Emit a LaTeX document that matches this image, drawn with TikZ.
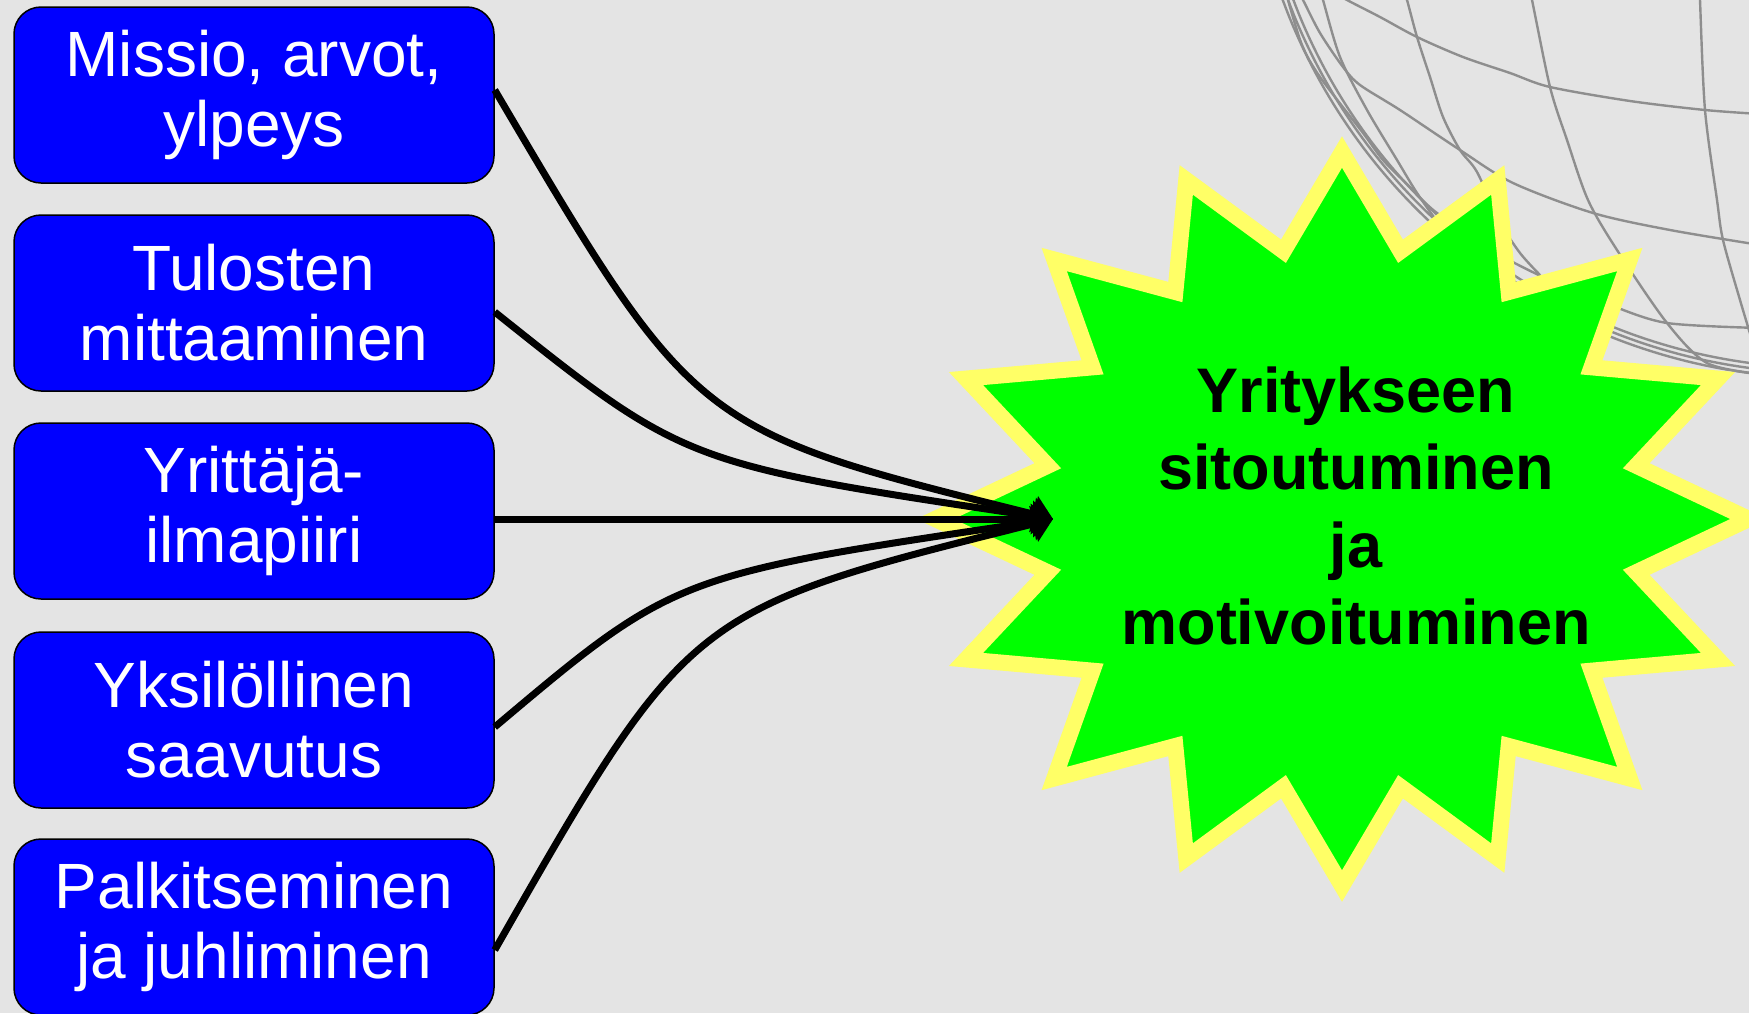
\documentclass[tikz,border=0pt]{standalone}
\usepackage{fontspec}
\setmainfont{Liberation Sans}
\usetikzlibrary{arrows.meta,calc}
\definecolor{bg}{HTML}{E4E4E4}
\definecolor{boxblue}{HTML}{0000FF}
\definecolor{stargreen}{HTML}{00FF00}
\definecolor{staredge}{HTML}{FFFF66}
\definecolor{globeline}{HTML}{8E8E8E}
\begin{document}
\begin{tikzpicture}[x=1pt,y=-1pt,
  factor/.style={draw=black, line width=1.5pt, fill=boxblue, rounded corners=27pt,
    minimum width=480pt, minimum height=176pt, inner sep=0pt,
    text=white, align=center, font=\fontsize{64pt}{70pt}\selectfont},
  link/.style={draw=black, line width=7pt, -{Triangle[length=20pt,width=36pt]}},
  globe/.style={draw=globeline, line width=2.4pt},
  burst/.style={draw=staredge, fill=stargreen, line width=16pt, line join=miter},
  goaltext/.style={text=black, align=center, inner sep=0pt,
    font=\fontsize{63pt}{77.5pt}\selectfont\bfseries}]
\useasboundingbox (0,0) rectangle (1749,1013);
\begin{scope}
\clip (0,0) rectangle (1749,1013);
\fill[bg] (0,0) rectangle (1749,1013);

% wire globe in the upper right corner
\foreach \r in {578,573,568}
  \draw[globe] plot[domain=95:165,samples=80] ({1825+\r*cos(\x)},{-200+\r*sin(\x)});
\draw[globe] plot[smooth] coordinates {(1330,-10) (1347,0) (1380,17) (1417,37) (1463,57)
  (1510,73) (1550,87) (1630,101) (1705,110) (1760,114)};
\draw[globe] plot[smooth] coordinates {(1297,-10) (1303,0) (1320,33) (1343,67) (1360,85)
  (1400,110) (1460,150) (1513,183) (1593,213) (1670,230) (1760,245)};
\draw[globe] plot[smooth] coordinates {(1288,0) (1302,45) (1320,77) (1363,133) (1383,160)
  (1410,187) (1437,213) (1500,255) (1560,285) (1610,305) (1667,323) (1760,328)};
\draw[globe] plot[smooth] coordinates {(1320,-10) (1323,0) (1340,57) (1367,110) (1397,160)
  (1417,193) (1440,225) (1470,260)};
\draw[globe] plot[smooth] coordinates {(1403,-10) (1407,0) (1417,37) (1430,77) (1443,117)
  (1460,150) (1477,172) (1500,222) (1520,253) (1540,275)};
\draw[globe] plot[smooth] coordinates {(1529,-10) (1532,0) (1550,87) (1567,140) (1588,200)
  (1617,250) (1667,323) (1707,363) (1760,374)};
\draw[globe] plot[smooth] coordinates {(1700,-10) (1700,0) (1705,110) (1717,200) (1723,240)
  (1740,300) (1755,350)};

% sixteen-point burst
\draw[burst] (1749,519)
  \foreach \k in {0,...,15} {
    -- ({1342+300*cos(22.5*\k+11.25)},{519-273*sin(22.5*\k+11.25)})
    -- ({1342+407*cos(22.5*\k+22.5)},{519-367*sin(22.5*\k+22.5)})
  } -- cycle;

% factor boxes
\node[factor] (b1) at (254,95)  {Missio, arvot,\\ylpeys};
\node[factor] (b2) at (254,303) {Tulosten\\mittaaminen};
\node[factor] (b3) at (254,511) {Yrittäjä-\\ilmapiiri};
\node[factor] (b4) at (254,720) {Yksilöllinen\\saavutus};
\node[factor] (b5) at (254,927) {Palkitseminen\\ja juhliminen};

% connectors meeting at the burst
\coordinate (tip) at (1053,519);
\draw[link] ([yshift=5pt]b1.east)  .. controls (695,430) .. (tip);
\draw[link] ([yshift=-9pt]b2.east) .. controls (685,464) .. (tip);
\draw[link] ([yshift=-8pt]b3.east) -- (tip);
\draw[link] ([yshift=-7pt]b4.east) .. controls (675,575) .. (tip);
\draw[link] ([yshift=-23pt]b5.east) .. controls (689,610) .. (tip);

\node[goaltext] (goal) at (1356,506)
  {Yritykseen\\sitoutuminen\\ja\\motivoituminen};
\end{scope}
\end{tikzpicture}
\end{document}
